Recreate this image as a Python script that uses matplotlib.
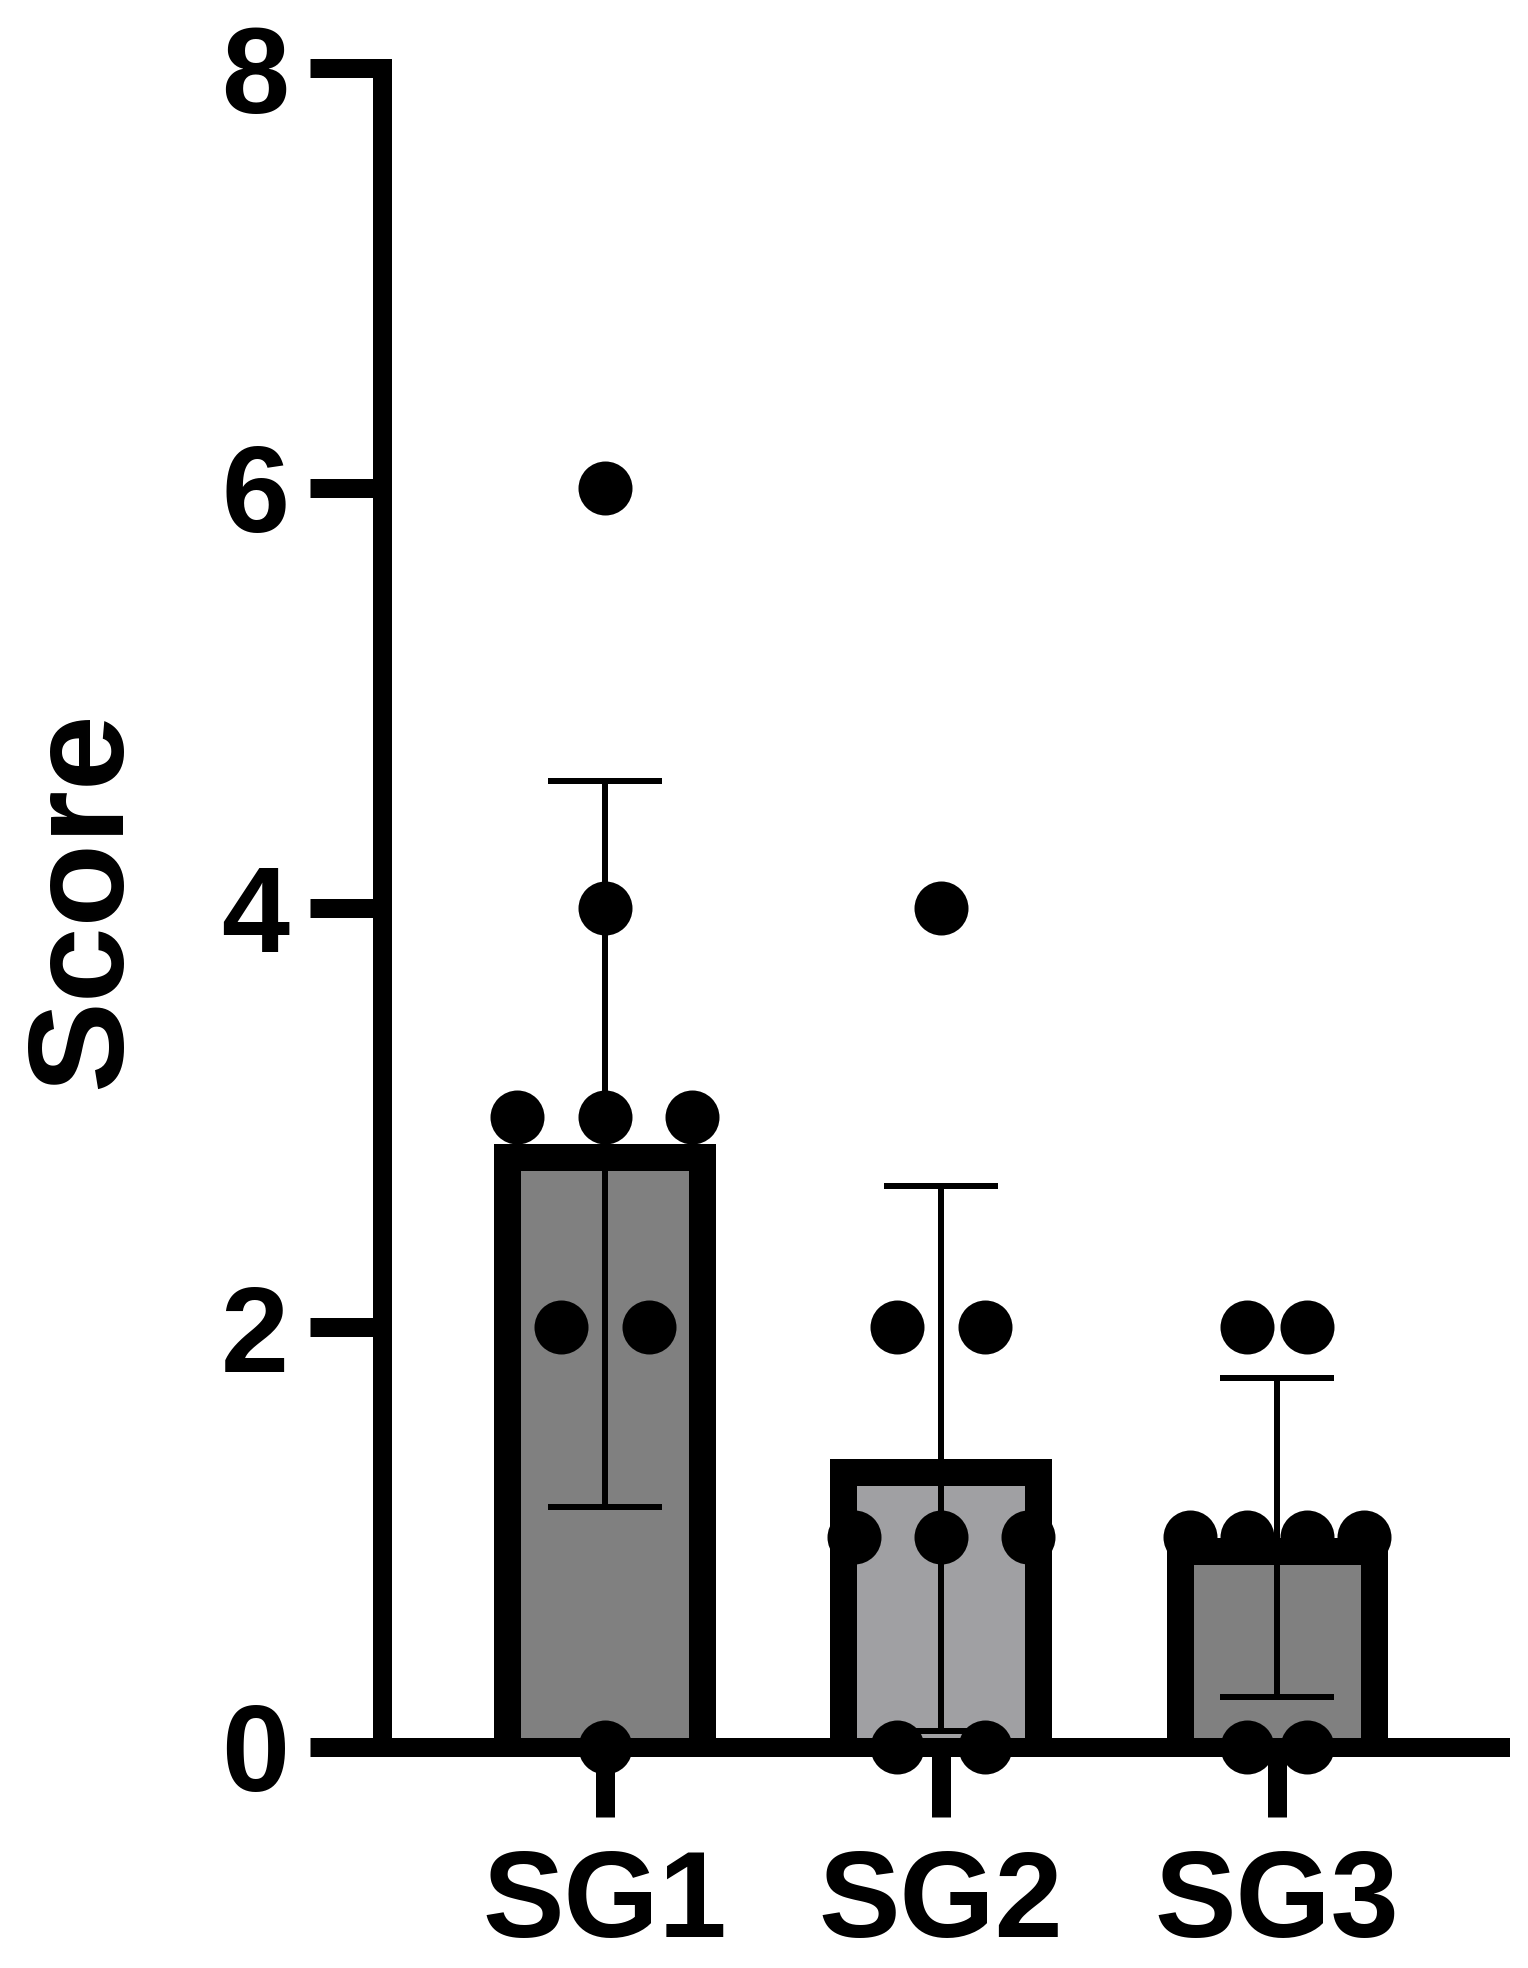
import matplotlib
matplotlib.use('Agg')
import matplotlib.pyplot as plt

# data
groups = ['SG1', 'SG2', 'SG3']
means = [2.875, 1.375, 1.0]
sds = [1.73, 1.30, 0.76]
bar_colors = ['#808080', '#a0a0a3', '#808080']

sg1_scores = [6, 4, 3, 3, 3, 2, 2, 0]
sg2_scores = [4, 2, 2, 1, 1, 1, 0, 0]
sg3_scores = [2, 2, 1, 1, 1, 1, 0, 0]
scores = [sg1_scores, sg2_scores, sg3_scores]

# horizontal scatter of the dots inside each group
sg1_jitter = [0, 0, -0.26, 0, 0.26, -0.13, 0.13, 0]
sg2_jitter = [0, -0.13, 0.13, -0.26, 0, 0.26, -0.13, 0.13]
sg3_jitter = [-0.09, 0.09, -0.26, -0.09, 0.09, 0.26, -0.09, 0.09]
jitters = [sg1_jitter, sg2_jitter, sg3_jitter]

plt.rcParams['font.family'] = ['Liberation Sans', 'DejaVu Sans']
plt.rcParams['font.weight'] = 'bold'

px = 0.72  # points per pixel at dpi 100
border = 27  # bar border in pixels, drawn inside the bar like prism does

fig = plt.figure(figsize=(15.28, 19.68), dpi=100)
ax = fig.add_axes([0.25, 0.1123, 0.732, 0.853])
ax.set_xlim(-0.663, 2.665)
ax.set_ylim(0, 8)

# half the border width in data units, so the outer edge sits on the mean
bbox = ax.get_window_extent()
dy = (border / 2) * 8 / bbox.height
x = list(range(len(groups)))
ax.bar(x, means, bottom=-dy, width=0.58, color=bar_colors,
       edgecolor='black', linewidth=border * px, joinstyle='miter', zorder=1)
ax.errorbar(x, means, yerr=sds, fmt='none', ecolor='black',
            elinewidth=6 * px, capsize=57 * px, capthick=6 * px, zorder=2)

for i in range(len(groups)):
    xs = [x[i] + j for j in jitters[i]]
    ax.plot(xs, scores[i], 'o', color='black', markersize=54 * px,
            markeredgewidth=0, zorder=4, clip_on=False)

ax.set_yticks([0, 2, 4, 6, 8])
ax.set_xticks(x)
ax.set_xticklabels(groups)

for side in ['top', 'right']:
    ax.spines[side].set_visible(False)
for side in ['left', 'bottom']:
    ax.spines[side].set_linewidth(19 * px)
    ax.spines[side].set_capstyle('projecting')
    ax.spines[side].set_zorder(3)

ax.tick_params(axis='y', length=72 * px, width=19 * px, pad=15, labelsize=88)
ax.tick_params(axis='x', length=70 * px, width=19 * px, pad=22, labelsize=88)

ax.set_ylabel('Score', fontsize=98, fontweight='bold')
ax.yaxis.set_label_coords(-0.209, 0.505)

plt.savefig('out.png', dpi=100)
